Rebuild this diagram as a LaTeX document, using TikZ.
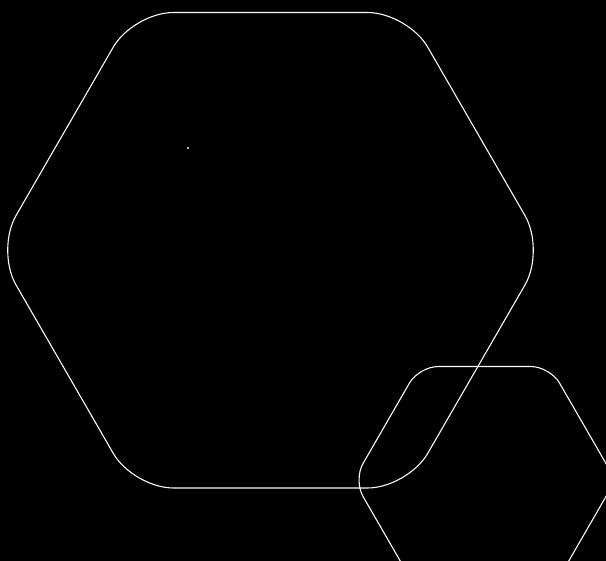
\documentclass[tikz,border=0pt]{standalone}
\usepackage{xcolor}
\usepackage{tikz}
\definecolor{hexwhite}{RGB}{250, 250, 250}

\begin{document}
\begin{tikzpicture}[
    x=1pt, y=-1pt,
    hexline/.style={draw=hexwhite, line width=1.1pt},
    bigcorner/.style={rounded corners=40pt},
    smallcorner/.style={rounded corners=19pt}
]

% background and frame
\fill[black] (0,0) rectangle (606,561);
\useasboundingbox (0,0) rectangle (606,561);
\clip (0,0) rectangle (606,561);

% large hexagon
\coordinate (bigc) at (270.5,250.25);
\draw[hexline, bigcorner, shift={(bigc)}]
    (0:274.5) -- (60:274.5) -- (120:274.5) -- (180:274.5) -- (240:274.5) -- (300:274.5) -- cycle;

% small hexagon
\coordinate (smallc) at (484.5,480);
\draw[hexline, smallcorner, shift={(smallc)}]
    (0:131) -- (60:131) -- (120:131) -- (180:131) -- (240:131) -- (300:131) -- cycle;

% dot
\fill[hexwhite] (188,148) circle (1.2pt);

\end{tikzpicture}
\end{document}
